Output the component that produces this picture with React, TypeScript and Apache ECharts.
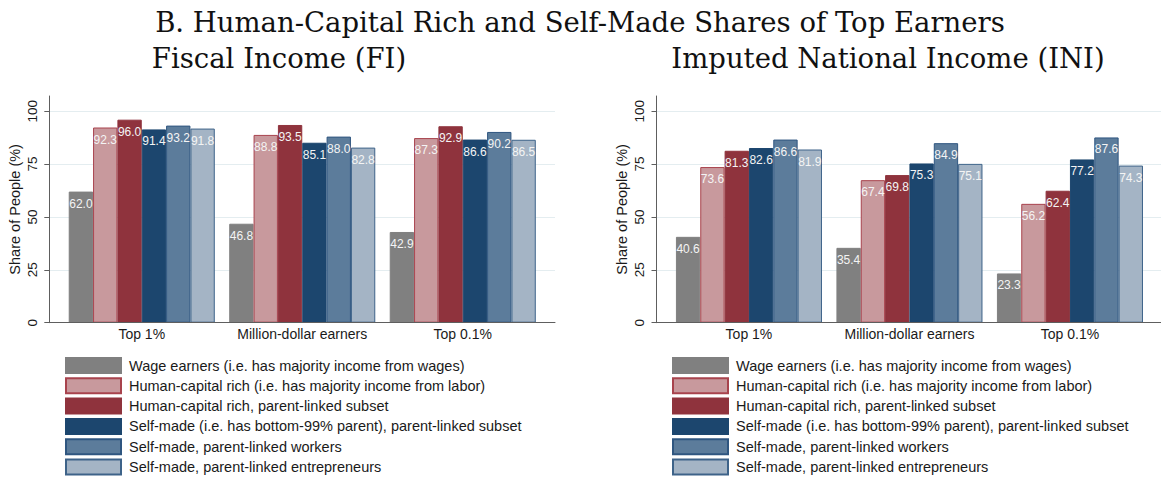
import React, { useEffect, useRef } from "react";
import * as echarts from "echarts";

const categories = ["Top 1%", "Million-dollar earners", "Top 0.1%"];
const seriesNames = [
  "Wage earners (i.e. has majority income from wages)",
  "Human-capital rich (i.e. has majority income from labor)",
  "Human-capital rich, parent-linked subset",
  "Self-made (i.e. has bottom-99% parent), parent-linked subset",
  "Self-made, parent-linked workers",
  "Self-made, parent-linked entrepreneurs",
];

// Fiscal Income (FI)
const fiWage = [62.0, 46.8, 42.9];
const fiHcRich = [92.3, 88.8, 87.3];
const fiHcLinked = [96.0, 93.5, 92.9];
const fiSelfMade = [91.4, 85.1, 86.6];
const fiWorkers = [93.2, 88.0, 90.2];
const fiEntre = [91.8, 82.8, 86.5];

// Imputed National Income (INI)
const iniWage = [40.6, 35.4, 23.3];
const iniHcRich = [73.6, 67.4, 56.2];
const iniHcLinked = [81.3, 69.8, 62.4];
const iniSelfMade = [82.6, 75.3, 77.2];
const iniWorkers = [86.6, 84.9, 87.6];
const iniEntre = [81.9, 75.1, 74.3];

const yTicks = [0, 25, 50, 75, 100];

const fills = ["#808080", "#c8999d", "#8f333d", "#1c466e", "#5c7c9b", "#a4b4c5"];
const borders = ["#808080", "#a8434d", "#8f333d", "#1c466e", "#2f5680", "#3e6389"];

const SANS = '"Liberation Sans", Arial, sans-serif';
const SERIF = '"DejaVu Serif", serif';

export default function App() {
  const ref = useRef<HTMLDivElement>(null);

  useEffect(() => {
    if (!ref.current) return;
    const chart = echarts.init(ref.current, undefined, { renderer: "svg" });

    const T = 96;
    const H = 226.7;
    const YMAX = 107.2;

    const frameY = (gridIndex: number) => ({
      gridIndex,
      type: "value",
      min: 0,
      max: YMAX,
      name: "Share of People (%)",
      nameLocation: "middle",
      nameGap: 27,
      nameTextStyle: { fontSize: 14.5, fontFamily: SANS, color: "#1a1a1a" },
      axisLine: { show: true, lineStyle: { color: "#5e5e5e", width: 1 } },
      axisTick: { show: true, length: 5, customValues: yTicks, lineStyle: { color: "#5e5e5e" } },
      axisLabel: {
        rotate: 90,
        customValues: yTicks,
        margin: 10,
        fontSize: 13.5,
        fontFamily: SANS,
        color: "#1a1a1a",
      },
      splitLine: { show: true, lineStyle: { color: "#e4edf0", width: 1 } },
    });
    const hiddenY = (gridIndex: number) => ({
      gridIndex,
      type: "value",
      min: 0,
      max: YMAX,
      show: false,
      splitLine: { show: false },
    });
    const frameX = (gridIndex: number) => ({
      gridIndex,
      type: "value",
      min: 0,
      max: 1,
      z: 3,
      axisLine: { show: true, lineStyle: { color: "#5e5e5e", width: 1 } },
      axisTick: { show: false },
      axisLabel: { show: false },
      splitLine: { show: false },
    });
    const catX = (gridIndex: number) => ({
      gridIndex,
      type: "category",
      data: categories,
      axisLine: { show: false },
      axisTick: { show: false },
      axisLabel: { interval: 0, margin: 4, fontSize: 14, fontFamily: SANS, color: "#1a1a1a" },
      splitLine: { show: false },
    });

    const makeSeries = (data: number[][], axisIndex: number) =>
      data.map((vals, i) => ({
        name: seriesNames[i],
        type: "bar",
        xAxisIndex: axisIndex,
        yAxisIndex: axisIndex,
        data: vals,
        barGap: "0%",
        barCategoryGap: "9%",
        itemStyle: { color: fills[i], borderColor: borders[i], borderWidth: 1 },
        label: {
          show: true,
          position: "insideTop",
          distance: 6,
          color: "#f4f4f4",
          fontSize: 12,
          fontFamily: SANS,
          formatter: (p: any) => Number(p.value).toFixed(1),
        },
      }));

    const legendBase = {
      data: seriesNames,
      orient: "vertical",
      top: 357,
      height: 125,
      itemWidth: 55,
      itemHeight: 15,
      itemGap: 3.3,
      padding: 0,
      icon: "rect",
      selectedMode: false,
      textStyle: { fontSize: 14.5, fontFamily: SANS, color: "#1a1a1a", padding: [0, 0, 0, 3] },
    };

    const option: any = {
      animation: false,
      backgroundColor: "#ffffff",
      grid: [
        { left: 49.3, top: T, width: 505.7, height: H },
        { left: 61.5, top: T, width: 481.5, height: H },
        { left: 656.5, top: T, width: 504.5, height: H },
        { left: 668.7, top: T, width: 481.5, height: H },
      ],
      xAxis: [frameX(0), catX(1), frameX(2), catX(3)],
      yAxis: [frameY(0), hiddenY(1), frameY(2), hiddenY(3)],
      legend: [
        { ...legendBase, left: 65 },
        { ...legendBase, left: 672 },
      ],
      graphic: [
        {
          type: "text",
          x: 580,
          y: 22,
          style: {
            text: "B. Human-Capital Rich and Self-Made Shares of Top Earners",
            fontSize: 27.5,
            fontFamily: SERIF,
            fill: "#111111",
            align: "center",
            verticalAlign: "middle",
          },
        },
        {
          type: "text",
          x: 279,
          y: 58,
          style: {
            text: "Fiscal Income (FI)",
            fontSize: 27.5,
            fontFamily: SERIF,
            fill: "#111111",
            align: "center",
            verticalAlign: "middle",
          },
        },
        {
          type: "text",
          x: 888,
          y: 58,
          style: {
            text: "Imputed National Income (INI)",
            fontSize: 27.5,
            fontFamily: SERIF,
            fill: "#111111",
            align: "center",
            verticalAlign: "middle",
          },
        },
      ],
      series: [
        ...makeSeries([fiWage, fiHcRich, fiHcLinked, fiSelfMade, fiWorkers, fiEntre], 1),
        ...makeSeries([iniWage, iniHcRich, iniHcLinked, iniSelfMade, iniWorkers, iniEntre], 3),
      ],
    };

    chart.setOption(option);
    return () => chart.dispose();
  }, []);

  return (
    <div
      ref={ref}
      style={{ position: "fixed", left: 0, top: 0, width: 1161, height: 478, background: "#fff" }}
    />
  );
}
